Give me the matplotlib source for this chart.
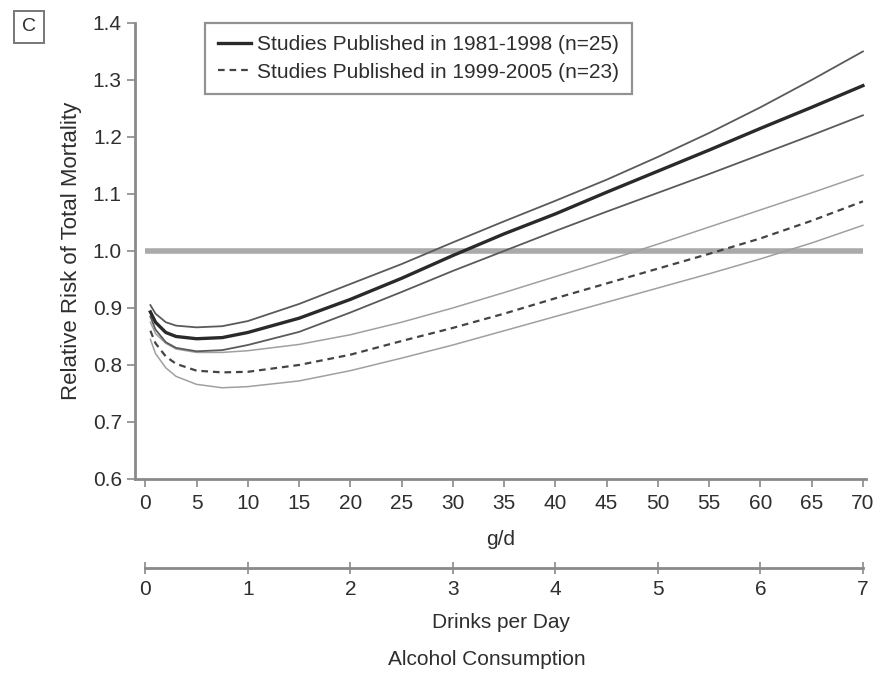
import matplotlib
matplotlib.use("Agg")
import matplotlib.pyplot as plt

plt.rcParams['font.family'] = ['Liberation Sans', 'DejaVu Sans']

# g/d grid the curves were read at
gd = [0.5, 1, 2, 3, 5, 7.5, 10, 15, 20, 25, 30, 35, 40, 45, 50, 55, 60, 65, 70]

# Studies Published in 1981-1998 (n=25): estimate and confidence band
early_mid = [0.893, 0.875, 0.857, 0.850, 0.846, 0.848, 0.857, 0.882, 0.915, 0.952,
             0.992, 1.030, 1.065, 1.103, 1.140, 1.177, 1.215, 1.252, 1.290]
early_hi = [0.905, 0.890, 0.875, 0.869, 0.866, 0.868, 0.877, 0.907, 0.942, 0.977,
            1.015, 1.052, 1.088, 1.125, 1.165, 1.207, 1.252, 1.300, 1.350]
early_lo = [0.885, 0.862, 0.840, 0.830, 0.824, 0.826, 0.835, 0.858, 0.892, 0.928,
            0.965, 1.000, 1.035, 1.069, 1.102, 1.135, 1.169, 1.203, 1.238]

# Studies Published in 1999-2005 (n=23)
late_mid = [0.860, 0.838, 0.815, 0.802, 0.790, 0.787, 0.788, 0.800, 0.818, 0.842,
            0.865, 0.890, 0.917, 0.943, 0.969, 0.995, 1.022, 1.053, 1.087]
late_hi = [0.875, 0.855, 0.838, 0.828, 0.822, 0.822, 0.825, 0.836, 0.853, 0.875,
           0.900, 0.927, 0.955, 0.983, 1.012, 1.042, 1.072, 1.102, 1.133]
late_lo = [0.845, 0.820, 0.795, 0.780, 0.766, 0.760, 0.762, 0.772, 0.790, 0.812,
           0.835, 0.860, 0.885, 0.910, 0.935, 0.960, 0.986, 1.014, 1.045]

gd_ticks = list(range(0, 75, 5))
drink_ticks = list(range(0, 8))
legend_labels = ['Studies Published in 1981-1998 (n=25)',
                 'Studies Published in 1999-2005 (n=23)']

txt = '#2e2e2e'
axis_col = '#8a8a8a'

fig = plt.figure(figsize=(8.79, 6.73), dpi=100)
ax = fig.add_axes([0.1536, 0.2883, 0.8316, 0.6776])

# reference line at RR = 1
ax.plot([0, 70], [1.0, 1.0], color='#aaaaaa', lw=4, solid_capstyle='butt', zorder=1)

ax.plot(gd, late_hi, color='#a0a0a0', lw=1.1, zorder=2)
ax.plot(gd, late_lo, color='#a0a0a0', lw=1.1, zorder=2)
l2, = ax.plot(gd, late_mid, color='#444444', lw=1.6, ls=(0, (3, 2.2)), zorder=3)

ax.plot(gd, early_hi, color='#5a5a5a', lw=1.3, zorder=3)
ax.plot(gd, early_lo, color='#5a5a5a', lw=1.3, zorder=3)
l1, = ax.plot(gd, early_mid, color='#2a2a2a', lw=2.4, zorder=4)

ax.set_xlim(-1, 70.3)
ax.set_ylim(0.6, 1.4)
ax.set_yticks([0.6, 0.7, 0.8, 0.9, 1.0, 1.1, 1.2, 1.3, 1.4])
ax.set_yticklabels([f'{v:.1f}' for v in ax.get_yticks()])
ax.set_xticks(gd_ticks)

for s in ['top', 'right']:
    ax.spines[s].set_visible(False)
for s in ['left', 'bottom']:
    ax.spines[s].set_color(axis_col)
    ax.spines[s].set_linewidth(2)
ax.tick_params(direction='out', length=6, width=1.2, color=axis_col,
               labelsize=15, labelcolor=txt)
ax.tick_params(axis='x', pad=5)
ax.set_xlabel('g/d', fontsize=15, color=txt, labelpad=12)
ax.set_ylabel('Relative Risk of Total Mortality', fontsize=16, color=txt, labelpad=8)

leg = ax.legend([l1, l2], legend_labels, loc='upper left',
                bbox_to_anchor=(0.096, 1.0), borderaxespad=0, fontsize=15,
                frameon=True, fancybox=False, handlelength=1.6, handletextpad=0.3,
                labelspacing=0.4, borderpad=0.6)
leg.get_frame().set_edgecolor('#777777')
leg.get_frame().set_linewidth(1.6)
for t in leg.get_texts():
    t.set_color(txt)

# second scale: drinks per day
ax2 = ax.twiny()
ax2.set_xlim(-0.1, 7.03)
ax2.xaxis.set_ticks_position('bottom')
ax2.xaxis.set_label_position('bottom')
ax2.spines['bottom'].set_position(('outward', 64))
ax2.spines['bottom'].set_bounds(0, 7)
ax2.spines['bottom'].set_color(axis_col)
ax2.spines['bottom'].set_linewidth(2)
for s in ['top', 'left', 'right']:
    ax2.spines[s].set_visible(False)
ax2.set_xticks(drink_ticks)
ax2.tick_params(direction='inout', length=8, width=1.2, color=axis_col,
                labelsize=15, labelcolor=txt, pad=5)
ax2.set_xlabel('Drinks per Day', fontsize=15, color=txt, labelpad=10)

fig.text(0.5535, 0.02, 'Alcohol Consumption', ha='center', va='center',
         fontsize=15, color=txt)

# panel letter
fig.text(0.033, 0.96, 'C', ha='center', va='center', fontsize=14, color=txt,
         bbox=dict(boxstyle='square,pad=0.4', fc='white', ec='#777777', lw=1.4))

fig.savefig('out.png', dpi=100)
